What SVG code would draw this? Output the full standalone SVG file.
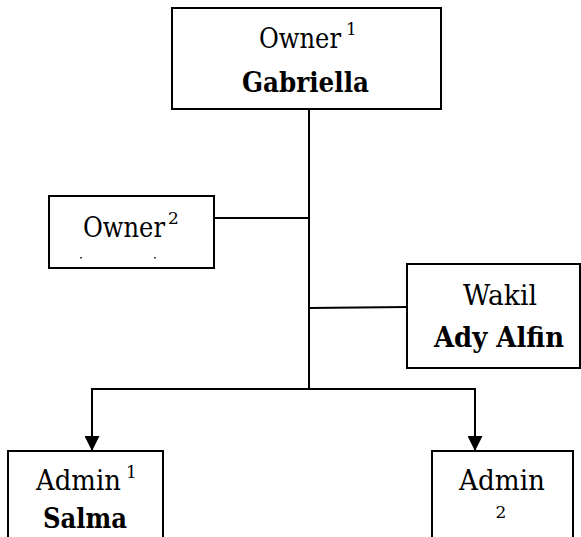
<svg xmlns="http://www.w3.org/2000/svg" width="581" height="537" viewBox="0 0 581 537">
<defs>
<marker id="arr" viewBox="0 0 15 15" refX="15" refY="7.5" markerWidth="15" markerHeight="15" markerUnits="userSpaceOnUse" orient="auto">
<path d="M0,0 L15,7.5 L0,15 Z" fill="#000"/>
</marker>
<style>
.box{fill:#fff;stroke:#000;stroke-width:2}
.t{font-family:'DejaVu Serif',serif;font-size:28px;fill:#000}
.b{font-weight:bold}
.s{font-size:17px}
.sup{font-family:'DejaVu Serif',serif;font-size:17px;fill:#000;text-anchor:middle}
.ln{fill:none;stroke:#000;stroke-width:2}
</style>
</defs>
<rect width="581" height="537" fill="#fff"/>
<g id="connectors">
<path class="ln" d="M309,109 V389"/>
<path class="ln" d="M214,218 H309"/>
<path class="ln" d="M309,308 L407,307"/>
<path class="ln" d="M309,389 H92 V451" marker-end="url(#arr)"/>
<path class="ln" d="M309,389 H475 V451" marker-end="url(#arr)"/>
</g>
<g id="owner1">
<rect class="box" x="172" y="8" width="269" height="101"/>
<text class="t" x="259" y="48"><tspan textLength="82" lengthAdjust="spacingAndGlyphs">Owner</tspan><tspan class="s" x="346" y="35">1</tspan></text>
<text class="t b" x="242" y="92" textLength="127" lengthAdjust="spacingAndGlyphs">Gabriella</text>
</g>
<g id="owner2">
<rect class="box" x="49" y="196" width="165" height="72"/>
<text class="t" x="83" y="237"><tspan textLength="82" lengthAdjust="spacingAndGlyphs">Owner</tspan><tspan class="s" x="168" y="224">2</tspan></text>
<rect x="80" y="257" width="2" height="1.5" fill="#444"/>
<rect x="154" y="257" width="2" height="1.5" fill="#444"/>
</g>
<g id="wakil">
<rect class="box" x="407" y="264" width="173" height="104"/>
<text class="t" x="463" y="305" textLength="74" lengthAdjust="spacingAndGlyphs">Wakil</text>
<text class="t b" x="434" y="347" textLength="130" lengthAdjust="spacingAndGlyphs">Ady Alfin</text>
</g>
<g id="admin1">
<rect class="box" x="8" y="451" width="155" height="100"/>
<text class="t" x="36" y="490"><tspan textLength="85" lengthAdjust="spacingAndGlyphs">Admin</tspan><tspan class="s" x="126" y="478">1</tspan></text>
<text class="t b" x="43" y="528" textLength="84" lengthAdjust="spacingAndGlyphs">Salma</text>
</g>
<g id="admin2">
<rect class="box" x="432" y="451" width="141" height="100"/>
<text class="t" x="459" y="490" textLength="86" lengthAdjust="spacingAndGlyphs">Admin</text>
<text class="sup" x="501" y="518">2</text>
</g>
</svg>
